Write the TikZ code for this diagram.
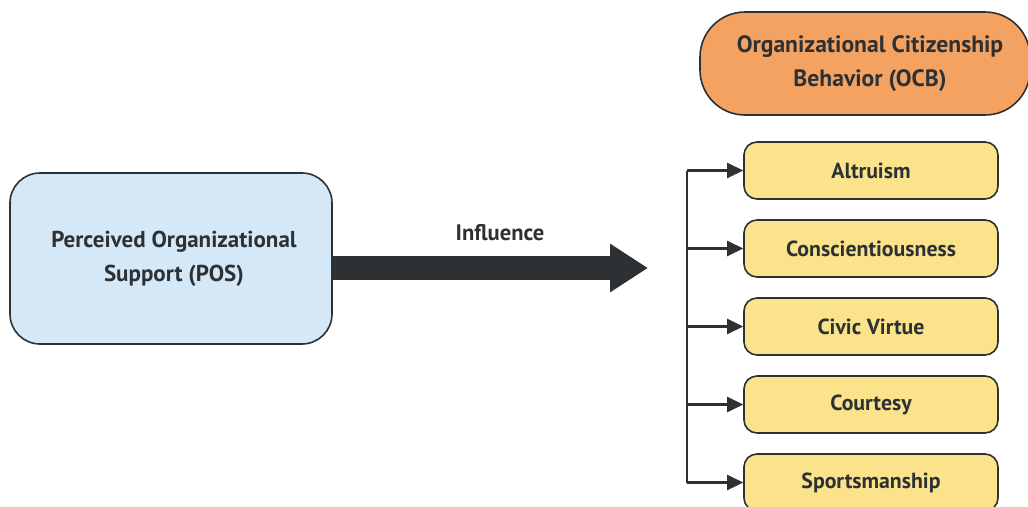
\documentclass[tikz,border=0pt]{standalone}
\usepackage{fontspec}
\setmainfont{PT Sans}
\usetikzlibrary{arrows.meta}
\definecolor{posblue}{HTML}{D5E8F7}
\definecolor{ocborange}{HTML}{F4A262}
\definecolor{dimyellow}{HTML}{FBE38C}
\definecolor{ink}{HTML}{2E3133}
\tikzset{
  box/.style={draw=ink, line width=1.6pt, align=center, font=\bfseries, text=ink, inner sep=0pt},
  posbox/.style={box, fill=posblue, rounded corners=30pt, minimum width=322pt, minimum height=171pt, font=\fontsize{23}{34}\selectfont\bfseries},
  ocbbox/.style={box, fill=ocborange, rounded corners=45pt, minimum width=330pt, minimum height=103pt, font=\fontsize{23.6}{34}\selectfont\bfseries},
  dimbox/.style={box, fill=dimyellow, rounded corners=13pt, minimum width=254pt, minimum height=57pt, font=\fontsize{21.8}{25}\selectfont\bfseries},
  bigarrow/.style={draw=ink, line width=24pt, -{Triangle[length=38pt,width=46pt]}},
  branch/.style={draw=ink, line width=2.4pt},
  brancharrow/.style={branch, -{Triangle[length=16pt,width=15pt]}},
  lbl/.style={font=\fontsize{22.5}{25}\selectfont\bfseries, text=ink}
}
\begin{document}
\begin{tikzpicture}[x=1pt,y=-1pt]
\useasboundingbox (0,0) rectangle (1028,506);
\clip (0,0) rectangle (1028,506);
\fill[white] (0,0) rectangle (1028,506);
\node[posbox] (pos) at (171,258.5) {\hspace*{6pt}Perceived Organizational\\\hspace*{6pt}Support (POS)};
\node[ocbbox] (ocb) at (865,63.5) {\hspace*{10pt}Organizational Citizenship\\\hspace*{10pt}Behavior (OCB)};
\node[dimbox] (alt) at (871,170.5) {Altruism};
\node[dimbox] (con) at (871,248.5) {Conscientiousness};
\node[dimbox] (civ) at (871,326.5) {Civic Virtue};
\node[dimbox] (cou) at (871,404.5) {Courtesy};
\node[dimbox] (spo) at (871,482.5) {Sportsmanship};
\coordinate (tip) at (648,268);
\draw[bigarrow] (pos.east |- tip) -- (tip);
\node[lbl] (infl) at (500,233) {Influence};
\coordinate (spine) at (687,0);
\draw[branch] (spine |- alt.west) -- (spine |- spo.west);
\foreach \b in {alt,con,civ,cou,spo}{
  \draw[brancharrow] (spine |- \b.west) -- (\b.west);
}
\end{tikzpicture}
\end{document}
